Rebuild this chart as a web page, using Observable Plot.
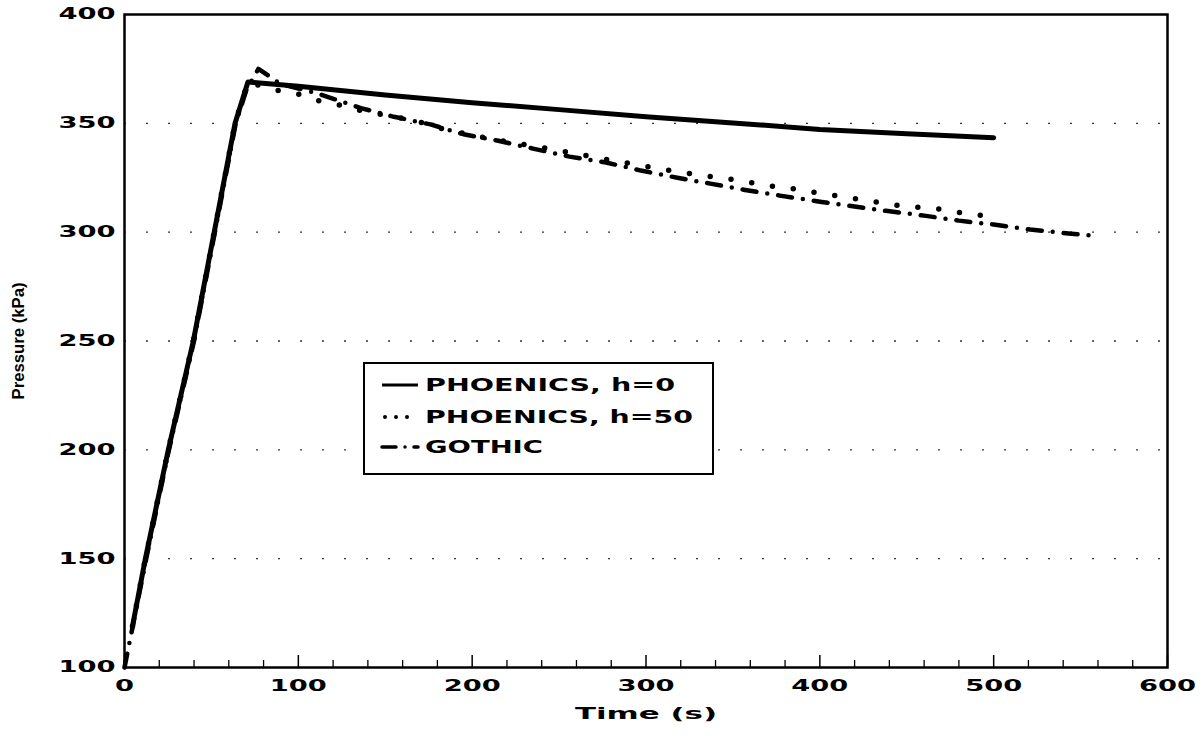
<!DOCTYPE html>
<html>
<head>
<meta charset="utf-8">
<script src="https://cdn.jsdelivr.net/npm/d3@7"></script>
<script src="https://cdn.jsdelivr.net/npm/@observablehq/plot@0.6"></script>
<style>
  html, body { margin: 0; padding: 0; background: #fff; }
  #wrap { position: relative; width: 1204px; height: 736px; }
  #legend { position: absolute; left: 363px; top: 362px; }
</style>
</head>
<body>
<div id="wrap"><div id="chart"></div><div id="legend"></div></div>
<script>
// ---- data ----
const xMajor = [0, 100, 200, 300, 400, 500, 600];
const xMinor = [20, 40, 60, 80, 120, 140, 160, 180, 220, 240, 260, 280, 320, 340, 360, 380, 420, 440, 460, 480, 520, 540, 560, 580];
const yTicks = [100, 150, 200, 250, 300, 350, 400];
const yGrid = [150, 200, 250, 300, 350];

const seriesNames = ["PHOENICS, h=0", "PHOENICS, h=50", "GOTHIC"];

const timeSolid = [4.6, 12, 25.2, 39.6, 51.6, 63.6, 71, 100, 150, 200, 250, 300, 350, 400, 450, 500];
const pSolid    = [119, 150, 200, 250, 300, 350, 369, 367, 363, 359.5, 356.3, 353, 350.2, 347.2, 345.2, 343.4];

const timeH50 = [4.6, 12, 25.2, 39.6, 51.6, 63.6, 71, 85, 99, 111, 123, 135, 148, 166, 185, 210, 247, 280, 309, 333, 347, 359, 371, 384, 420, 447, 458, 472, 484, 500];
const pH50    = [119, 150, 200, 250, 300, 350, 369, 365.5, 363.7, 360.5, 358.6, 356, 354, 351.5, 347, 343, 338, 333, 329, 326, 324.6, 323, 321.3, 320, 315.4, 312, 311.3, 310.4, 308.5, 307];

const timeG = [0, 12, 25, 40, 52, 64, 70, 77, 90, 110, 125, 136, 155, 176, 195, 215, 235, 256, 277, 297, 318, 337, 357, 377, 400, 418, 438, 460, 480, 500, 521, 543, 555];
const pG    = [100, 148, 198, 250, 300, 350, 365, 375, 368, 364, 360, 357, 353, 349.5, 345, 342, 338.4, 334.7, 332, 328.3, 325, 322.3, 319.4, 316.8, 314, 312, 309.8, 307.6, 305.3, 303.5, 301.2, 299.4, 298.5];

const toRows = (t, p) => t.map((d, i) => ({t: d, p: p[i]}));
const solidRows = toRows(timeSolid, pSolid);
const h50Rows = toRows(timeH50, pH50);
const gRows = toRows(timeG, pG);

const FONT = "DejaVu Sans";
const W = 1204, H = 736, mL = 124, mR = 37, mT = 14, mB = 69;
const frameH = H - mT - mB;

const chart = Plot.plot({
  width: W, height: H,
  marginLeft: mL, marginRight: mR, marginTop: mT, marginBottom: mB,
  style: {fontFamily: FONT, color: "#000", background: "#fff"},
  x: {domain: [0, 600]},
  y: {domain: [100, 400]},
  marks: [
    Plot.ruleY(yGrid, {y: d => d, stroke: "#333", strokeWidth: 1.3, strokeDasharray: "2,20"}),
    Plot.ruleX(xMinor, {x: d => d, insetTop: frameH - 7, stroke: "#000", strokeWidth: 1.3}),
    Plot.ruleX(xMajor, {x: d => d, insetTop: frameH - 12, stroke: "#000", strokeWidth: 1.5}),
    Plot.line(solidRows, {x: "t", y: "p", stroke: "#000", strokeWidth: 5, strokeLinejoin: "round"}),
    Plot.line(h50Rows, {x: "t", y: "p", stroke: "#000", strokeWidth: 5.5, strokeLinecap: "round", strokeDasharray: "0,21"}),
    Plot.line(gRows, {x: "t", y: "p", stroke: "#000", strokeWidth: 4.5, strokeLinecap: "round", strokeDasharray: "14,11,0,11"}),
    Plot.frame({stroke: "#000", strokeWidth: 2.5}),
    Plot.axisX({ticks: xMajor, tickSize: 0, tickPadding: 13, label: null, fontSize: 15, fontWeight: "bold"}),
    Plot.axisY({ticks: yTicks, tickSize: 0, tickPadding: 9, label: null, fontSize: 15.5, fontWeight: "bold"}),
    Plot.text(["Time (s)"], {frameAnchor: "bottom", dy: 51, fontSize: 16, fontWeight: "bold"}),
    Plot.text(["Pressure (kPa)"], {frameAnchor: "left", textAnchor: "middle", dx: -106, rotate: -90, fontSize: 17, fontWeight: "bold", fontFamily: "Liberation Sans"})
  ]
});
document.getElementById("chart").appendChild(chart);

// stretch the wide lettering of the original
const svg = d3.select(chart);
svg.selectAll('[aria-label="x-axis tick label"] text, [aria-label="y-axis tick label"] text').each(function() {
  const s = this.textContent;
  d3.select(this).attr("textLength", s.length * 19).attr("lengthAdjust", "spacingAndGlyphs");
});
svg.selectAll("text").each(function() {
  const s = this.textContent;
  if (s === "Time (s)") d3.select(this).attr("textLength", 142).attr("lengthAdjust", "spacingAndGlyphs");
  if (s === "Pressure (kPa)") d3.select(this).attr("textLength", 117).attr("lengthAdjust", "spacingAndGlyphs");
});

// ---- legend ----
const lg = d3.select("#legend").append("svg").attr("width", 352).attr("height", 114);
lg.append("rect").attr("x", 1).attr("y", 1).attr("width", 349).attr("height", 111)
  .attr("fill", "#fff").attr("stroke", "#000").attr("stroke-width", 2);
const rowsY = [23, 55, 85];
const textLen = [250, 268, 118];
const styles = [
  {w: 3, dash: null, cap: "butt"},
  {w: 4, dash: "0,11", cap: "round"},
  {w: 3.5, dash: "14,9,0,9", cap: "round"}
];
seriesNames.forEach((name, i) => {
  const st = styles[i];
  const ln = lg.append("line").attr("x1", i === 1 ? 22 : 19).attr("x2", 55)
    .attr("y1", rowsY[i]).attr("y2", rowsY[i])
    .attr("stroke", "#000").attr("stroke-width", st.w).attr("stroke-linecap", st.cap);
  if (st.dash) ln.attr("stroke-dasharray", st.dash);
  lg.append("text").attr("x", 62).attr("y", rowsY[i]).attr("dy", "0.36em")
    .attr("font-family", FONT).attr("font-weight", "bold").attr("font-size", 18)
    .attr("textLength", textLen[i]).attr("lengthAdjust", "spacingAndGlyphs")
    .text(name);
});
</script>
</body>
</html>
